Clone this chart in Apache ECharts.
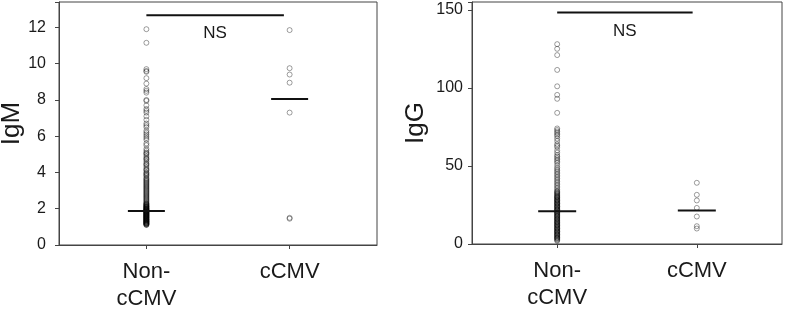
<!DOCTYPE html>
<html>
<head>
<meta charset="utf-8">
<script src="https://cdn.jsdelivr.net/npm/echarts@6/dist/echarts.min.js"></script>
<style>html,body{margin:0;padding:0;background:#fff}#c{width:787px;height:310px}</style>
</head>
<body>
<div id="c"></div>
<script>
const categories = ['Non-\ncCMV', 'cCMV'];
const igmNon = [11.9, 11.15, 9.7, 9.6, 9.55, 9.2, 8.9, 8.6, 8.5, 8.4, 8.0, 7.95, 7.7, 7.5, 7.4, 7.3, 7.1, 6.9, 6.7, 6.6, 6.5, 6.3, 6.2, 6.1, 6.0, 5.9, 5.8, 5.6, 5.5, 5.3, 5.2, 5.1, 5.05, 5.0, 4.9, 4.8, 4.75, 4.7, 4.6, 4.5, 4.45, 4.4, 4.3, 4.2, 4.15, 4.1, 4.0, 3.95, 3.9, 3.85, 3.8, 3.7, 3.65, 3.6, 3.55, 3.5, 3.45, 3.4, 3.35, 3.3, 3.25, 3.2, 3.15, 3.1, 3.05, 3.0, 2.95, 2.9, 2.85, 2.8, 2.75, 2.7, 2.65, 2.6, 2.55, 2.5, 2.45, 2.4, 2.35, 2.3, 2.28, 2.25, 2.22, 2.2, 2.18, 2.15, 2.12, 2.1, 2.08, 2.05, 2.02, 2.0, 1.98, 1.95, 1.92, 1.9, 1.88, 1.85, 1.82, 1.8, 1.78, 1.75, 1.72, 1.7, 1.68, 1.65, 1.62, 1.6, 1.58, 1.55, 1.52, 1.5, 1.48, 1.45, 1.42, 1.4, 1.38, 1.35, 1.32, 1.3, 1.28, 1.25, 1.22, 1.2, 1.18, 1.15, 1.12, 1.1, 2.0, 1.9, 1.8, 1.7, 1.6, 1.5, 1.4, 1.3, 1.2, 2.1, 1.95, 1.85, 1.75, 1.65, 1.55, 1.45, 1.35, 1.25, 1.15];
const igmCmv = [11.85, 9.75, 9.4, 8.95, 7.3, 1.5, 1.45];
const iggNon = [128, 125, 121, 111.5, 101, 95.5, 93, 84, 74, 73, 72, 71, 70, 69, 67.5, 66, 64, 63, 62, 60, 58.5, 57, 56, 55, 54, 53, 52, 50.5, 49, 48, 47, 46, 45, 44, 43, 42, 41, 40, 39, 38, 37, 36, 35, 34, 33.5, 33, 32.5, 32, 31.5, 31, 30.5, 30, 29.5, 29, 28.5, 28, 27.5, 27, 26.5, 26, 25.5, 25, 24.5, 24, 23.5, 23, 22.5, 22, 21.5, 21, 20.5, 20, 19.5, 19, 18.5, 18, 17.5, 17, 16.5, 16, 15.5, 15, 14.5, 14, 13.5, 13, 12.5, 12, 11.5, 11, 10.5, 10, 9.5, 9, 8.5, 8, 7.5, 7, 6.5, 6, 5.5, 5, 4.5, 4, 3.5, 3, 2.5, 2, 30, 28, 26, 24, 22, 20, 18, 16, 14, 12, 10, 8, 6, 4];
const iggCmv = [39.2, 31.5, 27.9, 23.1, 17.6, 11.4, 9.9];
const igmMedians = [1.87, 8.05];
const iggMedians = [21.0, 21.4];
const nsIgM = 12.67;
const nsIgG = 148.3;
const nsLabel = 'NS';

const font = 'Liberation Sans, Arial, sans-serif';
const axisColor = '#444';
const textColor = '#1a1a1a';

function pts(vals, x) { return vals.map(v => [x, v]); }

function xAxisCfg(gi) {
  return {
    type: 'value', gridIndex: gi, min: 0.39, max: 2.61,
    splitLine: { show: false },
    axisLine: { show: true, lineStyle: { color: axisColor, width: 1 } },
    axisTick: { show: true, length: 4, customValues: [1, 2], lineStyle: { color: axisColor } },
    axisLabel: {
      customValues: [1, 2], margin: 13, color: textColor, fontFamily: font, fontSize: 22, lineHeight: 27,
      formatter: v => categories[Math.round(v) - 1]
    }
  };
}
function yAxisCfg(gi, max, interval, name, margin, gap) {
  return {
    type: 'value', gridIndex: gi, min: 0, max: max, interval: interval,
    name: name, nameLocation: 'middle', nameGap: gap, nameRotate: 90, nameMoveOverlap: false,
    nameTextStyle: { fontFamily: font, fontSize: 26, color: textColor },
    splitLine: { show: false },
    axisLine: { show: true, lineStyle: { color: axisColor, width: 1 } },
    axisTick: { show: true, length: 4, lineStyle: { color: axisColor } },
    axisLabel: { margin: margin, color: textColor, fontFamily: font, fontSize: 16,
      formatter: v => (Math.abs(v / interval - Math.round(v / interval)) < 1e-6 ? String(v) : '') }
  };
}
const circleStyle = { color: 'rgba(255,255,255,0)', borderColor: 'rgba(0,0,0,0.38)', borderWidth: 1, opacity: 1 };
function scatter(gi, data) {
  return { type: 'scatter', xAxisIndex: gi, yAxisIndex: gi, data: data, symbol: 'circle', symbolSize: 5,
    itemStyle: circleStyle, silent: true, z: 2 };
}
function medians(gi, meds, w) {
  return { type: 'scatter', xAxisIndex: gi, yAxisIndex: gi, data: meds.map((m, i) => [i + 1, m]),
    symbol: 'rect', symbolSize: [w, 2], itemStyle: { color: '#111', opacity: 1 }, silent: true, z: 5 };
}
function nsLine(gi, y, xe) {
  return [
    { type: 'line', xAxisIndex: gi, yAxisIndex: gi, data: [[1, y], [xe, y]], symbol: 'none',
      lineStyle: { color: '#111', width: 2 }, silent: true, z: 5 },
    { type: 'scatter', xAxisIndex: gi, yAxisIndex: gi, data: [[(1 + xe) / 2, y]], symbolSize: 0,
      itemStyle: { opacity: 1 },
      label: { show: true, position: 'bottom', distance: 10, formatter: nsLabel, fontFamily: font, fontSize: 17, color: textColor },
      silent: true }
  ];
}

const chart = echarts.init(document.getElementById('c'), null, { renderer: 'canvas' });
chart.setOption({
  animation: false,
  backgroundColor: '#fff',
  grid: [
    { left: 59, right: 410, top: 2, bottom: 65, show: true, borderColor: axisColor, borderWidth: 1, outerBoundsMode: 'none', containLabel: false },
    { left: 472, right: 5, top: 2, bottom: 66, show: true, borderColor: axisColor, borderWidth: 1, outerBoundsMode: 'none', containLabel: false }
  ],
  xAxis: [xAxisCfg(0), xAxisCfg(1)],
  yAxis: [yAxisCfg(0, 13.4, 2, 'IgM', 13, 34), yAxisCfg(1, 155, 50, 'IgG', 9, 43)],
  series: [
    scatter(0, pts(igmNon, 1)),
    scatter(0, pts(igmCmv, 2)),
    medians(0, igmMedians, 37),
    ...nsLine(0, nsIgM, 1.96),
    scatter(1, pts(iggNon, 1)),
    scatter(1, pts(iggCmv, 2)),
    medians(1, iggMedians, 38),
    ...nsLine(1, nsIgG, 1.97)
  ]
});
</script>
</body>
</html>
